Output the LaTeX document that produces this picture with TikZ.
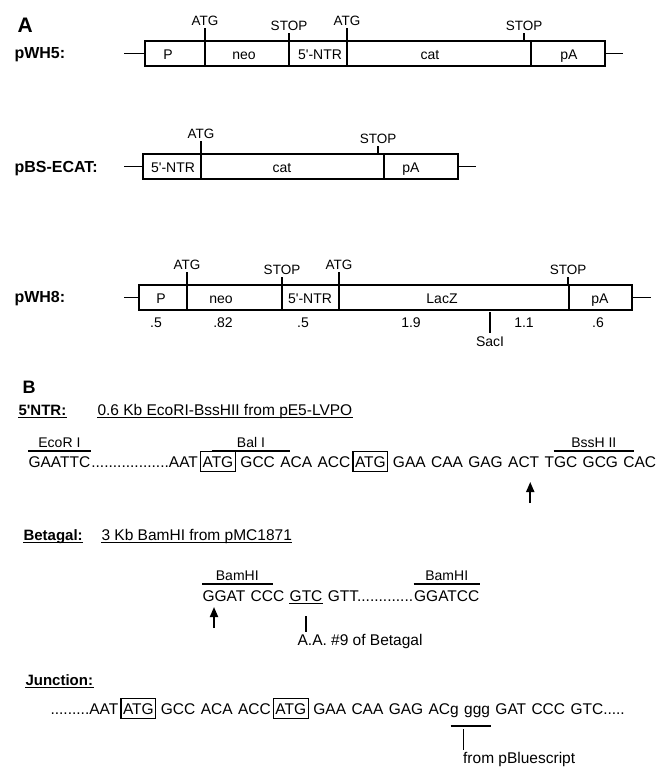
\documentclass[tikz,border=0pt]{standalone}
\usepackage{fontspec}
\setmainfont{Liberation Sans}
\usetikzlibrary{positioning, calc, arrows.meta}

\tikzset{
  panel/.style={font=\bfseries\fontsize{21}{23}\selectfont, inner sep=0pt, anchor=base west},
  rowname/.style={font=\bfseries\fontsize{16}{18}\selectfont, inner sep=0pt, anchor=base west},
  seglabel/.style={font=\fontsize{14}{16}\selectfont, inner sep=0pt, anchor=base},
  site/.style={font=\fontsize{13.5}{15}\selectfont, inner sep=2pt, anchor=south},
  sitename/.style={font=\fontsize{14}{16}\selectfont, inner sep=0pt, anchor=base},
  header/.style={font=\bfseries\fontsize{15}{18}\selectfont, inner sep=0pt, anchor=base west},
  seq/.style={font=\fontsize{15.5}{18}\selectfont, inner sep=0pt},
  atgbox/.style={seq, draw, line width=1.3pt, inner xsep=2pt, inner ysep=4.5pt},
  mapline/.style={line width=1.6pt},
  tickline/.style={line width=1.4pt},
  siteline/.style={line width=1.5pt},
  cutarrow/.style={-{Triangle[width=8pt,length=10pt]}, line width=1.8pt}
}

\begin{document}
\begin{tikzpicture}[x=1pt, y=-1pt, line width=1.1pt]
  \useasboundingbox (0,0) rectangle (657,770);

  % ---- Panel A: constructs ----
  \node[panel] (lbl_a) at (17,33) {A};

  % pWH5
  \node[rowname] (row_pwh5) at (14,59) {pWH5:};
  \draw[mapline] (124,53.5) -- (145,53.5);
  \draw[mapline] (605,53.5) -- (623,53.5);
  \draw[mapline] (145,41) rectangle (605,66);
  \foreach \x in {205,289,347,531}
    \draw[mapline] (\x,41) -- (\x,66);
  \node[seglabel] (w5_p) at (168,59.5) {P};
  \node[seglabel] (w5_neo) at (244,59.5) {neo};
  \node[seglabel] (w5_ntr) at (320,59.5) {5\textquotesingle-NTR};
  \node[seglabel] (w5_cat) at (430,59.5) {cat};
  \node[seglabel] (w5_pa) at (569,59.5) {pA};
  \draw[tickline] (205,41) -- (205,28) node[site] (w5_atg1) {ATG};
  \draw[tickline] (289,41) -- (289,33) node[site] (w5_stop1) {STOP};
  \draw[tickline] (347,41) -- (347,28) node[site] (w5_atg2) {ATG};
  \draw[tickline] (524,41) -- (524,33) node[site] (w5_stop2) {STOP};

  % pBS-ECAT
  \node[rowname] (row_pbs) at (14,172) {pBS-ECAT:};
  \draw[mapline] (124,166.5) -- (143,166.5);
  \draw[mapline] (458,166.5) -- (476,166.5);
  \draw[mapline] (143,154) rectangle (458,179);
  \foreach \x in {201,384}
    \draw[mapline] (\x,154) -- (\x,179);
  \node[seglabel] (bs_ntr) at (173,172) {5\textquotesingle-NTR};
  \node[seglabel] (bs_cat) at (282,172) {cat};
  \node[seglabel] (bs_pa) at (411,172) {pA};
  \draw[tickline] (201,154) -- (201,141) node[site] (bs_atg) {ATG};
  \draw[tickline] (378,154) -- (378,146) node[site] (bs_stop) {STOP};

  % pWH8
  \node[rowname] (row_pwh8) at (14,302) {pWH8:};
  \draw[mapline] (124,297.5) -- (139,297.5);
  \draw[mapline] (632,297.5) -- (651,297.5);
  \draw[mapline] (139,285) rectangle (632,310);
  \foreach \x in {187,282,339,569}
    \draw[mapline] (\x,285) -- (\x,310);
  \node[seglabel] (w8_p) at (161,303) {P};
  \node[seglabel] (w8_neo) at (221,303) {neo};
  \node[seglabel] (w8_ntr) at (310,303) {5\textquotesingle-NTR};
  \node[seglabel] (w8_lacz) at (442,303) {LacZ};
  \node[seglabel] (w8_pa) at (600,303) {pA};
  \draw[tickline] (187,285) -- (187,272) node[site] (w8_atg1) {ATG};
  \draw[tickline] (282,285) -- (282,277) node[site] (w8_stop1) {STOP};
  \draw[tickline] (339,285) -- (339,272) node[site] (w8_atg2) {ATG};
  \draw[tickline] (568,285) -- (568,277) node[site] (w8_stop2) {STOP};

  % sizes (kb) and SacI site
  \node[seglabel] (kb_p) at (156,327) {.5};
  \node[seglabel] (kb_neo) at (223,327) {.82};
  \node[seglabel] (kb_ntr) at (303,327) {.5};
  \node[seglabel] (kb_lacz1) at (411,327) {1.9};
  \node[seglabel] (kb_lacz2) at (524,327) {1.1};
  \node[seglabel] (kb_pa) at (598,327) {.6};
  \draw[tickline] (490,312) -- (490,333) coordinate (saci_foot);
  \node[seglabel, anchor=north] (lbl_saci) at ([yshift=-3pt]saci_foot) {SacI};

  % ---- Panel B: sequences ----
  \node[panel, font=\bfseries\fontsize{18}{20}\selectfont] (lbl_b) at (22,393) {B};

  % 5'NTR fragment
  \node[header] (hd_ntr) at (18,415) {5\textquotesingle NTR:};
  \node[seq, anchor=base west] (hd_ntr_src) at (97,415) {0.6 Kb EcoRI-BssHII from pE5-LVPO};
  \draw[siteline] ([yshift=-2.5pt]hd_ntr.base west) -- ([yshift=-2.5pt]hd_ntr.base east);
  \draw[siteline] ([yshift=-2.5pt]hd_ntr_src.base west) -- ([yshift=-2.5pt]hd_ntr_src.base east);

  \node[seq, anchor=base west] (ntr_ecori) at (28,467) {GAATTC};
  \node[seq, base right=0pt of ntr_ecori] (ntr_aat) {..................AAT};
  \node[atgbox, base right=1.5pt of ntr_aat] (ntr_atg1) {ATG};
  \node[seq, base right=4pt of ntr_atg1] (ntr_gcc) {GCC};
  \node[seq, base right=4.3pt of ntr_gcc] (ntr_aca) {ACA};
  \node[seq, base right=4.3pt of ntr_aca] (ntr_acc) {ACC};
  \node[atgbox, base right=1.5pt of ntr_acc] (ntr_atg2) {ATG};
  \node[seq, base right=4pt of ntr_atg2] (ntr_gaa) {GAA};
  \node[seq, base right=4.3pt of ntr_gaa] (ntr_caa) {CAA};
  \node[seq, base right=4.3pt of ntr_caa] (ntr_gag) {GAG};
  \node[seq, base right=4.3pt of ntr_gag] (ntr_act) {ACT};
  \node[seq, base right=4.3pt of ntr_act] (ntr_tgc) {TGC};
  \node[seq, base right=4.3pt of ntr_tgc] (ntr_gcg) {GCG};
  \node[seq, base right=4.3pt of ntr_gcg] (ntr_cac) {CAC};

  % restriction sites over the 5'NTR sequence
  \coordinate (eco_l) at ([yshift=16pt]ntr_ecori.base west);
  \coordinate (eco_r) at ([yshift=16pt]ntr_ecori.base east);
  \coordinate (bal_l) at ([xshift=12pt, yshift=16pt]ntr_atg1.base west);
  \coordinate (bal_r) at ([xshift=10.3pt, yshift=16pt]ntr_aca.base west);
  \coordinate (bss_l) at ([xshift=9.5pt, yshift=16pt]ntr_tgc.base west);
  \coordinate (bss_r) at ([xshift=11.2pt, yshift=16pt]ntr_cac.base west);
  \draw[siteline] (eco_l) -- (eco_r);
  \draw[siteline] (bal_l) -- (bal_r);
  \draw[siteline] (bss_l) -- (bss_r);
  \node[sitename, yshift=4pt] (lbl_eco) at ($(eco_l)!0.5!(eco_r)$) {EcoR I};
  \node[sitename, yshift=4pt] (lbl_bal) at ($(bal_l)!0.5!(bal_r)$) {Bal I};
  \node[sitename, yshift=4pt] (lbl_bss) at ($(bss_l)!0.5!(bss_r)$) {BssH II};
  \draw[cutarrow] ([xshift=-9.5pt, yshift=-36pt]ntr_act.base east) -- ([xshift=-9.5pt, yshift=-15pt]ntr_act.base east);

  % Betagal fragment
  \node[header] (hd_bet) at (23,540) {Betagal:};
  \node[seq, anchor=base west] (hd_bet_src) at (101,540) {3 Kb BamHI from pMC1871};
  \draw[siteline] ([yshift=-2.5pt]hd_bet.base west) -- ([yshift=-2.5pt]hd_bet.base east);
  \draw[siteline] ([yshift=-2.5pt]hd_bet_src.base west) -- ([yshift=-2.5pt]hd_bet_src.base east);

  \node[seq, anchor=base west] (bet_ggat) at (202,601) {GGAT};
  \node[seq, base right=4.3pt of bet_ggat] (bet_ccc) {CCC};
  \node[seq, base right=4.3pt of bet_ccc] (bet_gtc) {GTC};
  \node[seq, base right=4.3pt of bet_gtc] (bet_gtt) {GTT.............};
  \node[seq, base right=0pt of bet_gtt] (bet_ggatcc) {GGATCC};

  \coordinate (bam1_l) at ([yshift=17pt]bet_ggat.base west);
  \coordinate (bam1_r) at ([xshift=22.4pt, yshift=17pt]bet_ccc.base west);
  \coordinate (bam2_l) at ([yshift=17pt]bet_ggatcc.base west);
  \coordinate (bam2_r) at ([yshift=17pt]bet_ggatcc.base east);
  \draw[siteline] (bam1_l) -- (bam1_r);
  \draw[siteline] (bam2_l) -- (bam2_r);
  \node[sitename, yshift=4pt] (lbl_bam1) at ($(bam1_l)!0.5!(bam1_r)$) {BamHI};
  \node[sitename, yshift=4pt] (lbl_bam2) at ($(bam2_l)!0.5!(bam2_r)$) {BamHI};
  \draw[cutarrow] ([xshift=12pt, yshift=-27pt]bet_ggat.base west) -- ([xshift=12pt, yshift=-6pt]bet_ggat.base west);

  % codon 9 of betagal
  \draw[siteline] ([yshift=-2.5pt]bet_gtc.base west) -- ([yshift=-2.5pt]bet_gtc.base east);
  \draw[tickline] ([yshift=-15pt]bet_gtc.base) -- ([yshift=-31pt]bet_gtc.base) coordinate (gtc_foot);
  \node[seq, anchor=north west] (lbl_aa9) at ([xshift=-9pt, yshift=-2pt]gtc_foot) {A.A. \#9 of Betagal};

  % Junction
  \node[header] (hd_jn) at (25,685) {Junction:};
  \draw[siteline] ([yshift=-2.5pt]hd_jn.base west) -- ([yshift=-2.5pt]hd_jn.base east);

  \node[seq, anchor=base west] (jn_aat) at (50,714) {.........AAT};
  \node[atgbox, base right=1.5pt of jn_aat] (jn_atg1) {ATG};
  \node[seq, base right=4pt of jn_atg1] (jn_gcc) {GCC};
  \node[seq, base right=4.3pt of jn_gcc] (jn_aca) {ACA};
  \node[seq, base right=4.3pt of jn_aca] (jn_acc) {ACC};
  \node[atgbox, base right=1.5pt of jn_acc] (jn_atg2) {ATG};
  \node[seq, base right=4pt of jn_atg2] (jn_gaa) {GAA};
  \node[seq, base right=4.3pt of jn_gaa] (jn_caa) {CAA};
  \node[seq, base right=4.3pt of jn_caa] (jn_gag) {GAG};
  \node[seq, base right=4.3pt of jn_gag] (jn_acg) {ACg};
  \node[seq, base right=4.3pt of jn_acg] (jn_ggg) {ggg};
  \node[seq, base right=4.3pt of jn_ggg] (jn_gat) {GAT};
  \node[seq, base right=4.3pt of jn_gat] (jn_ccc) {CCC};
  \node[seq, base right=4.3pt of jn_ccc] (jn_gtc) {GTC.....};

  % linker bases from pBluescript
  \draw[siteline] ([xshift=-8.6pt, yshift=-12pt]jn_acg.base east) -- ([yshift=-12pt]jn_ggg.base east);
  \draw[tickline] ([yshift=-15pt]jn_ggg.base west) -- ([yshift=-36pt]jn_ggg.base west) coordinate (ggg_foot);
  \node[seq, anchor=north west] (lbl_pbs) at ([xshift=-1pt, yshift=-2pt]ggg_foot) {from pBluescript};
\end{tikzpicture}
\end{document}
